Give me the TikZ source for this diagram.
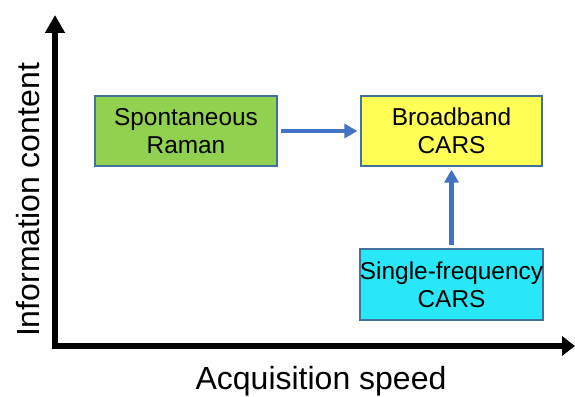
\documentclass[tikz,border=0pt]{standalone}
\usepackage{fontspec}
\setmainfont{Liberation Sans}
\usetikzlibrary{arrows.meta}
\definecolor{boxline}{RGB}{65,113,156}
\definecolor{arrowblue}{RGB}{68,114,196}
\definecolor{rgreen}{RGB}{146,208,80}
\definecolor{ryellow}{RGB}{255,255,85}
\definecolor{rcyan}{RGB}{40,232,248}
\tikzset{
  box/.style={draw=boxline, line width=1.3pt, inner sep=0pt, align=center,
    font=\fontsize{24.4}{28}\selectfont, text=black},
  conn/.style={draw=arrowblue, line width=4.5pt,
    -{Triangle[length=13pt,width=14pt]}, shorten <=3pt, shorten >=3pt},
  axis/.style={line width=6pt, line join=miter,
    {Triangle[length=18pt,width=19pt]}-{Triangle[length=13pt,width=19pt]}},
  axlabel/.style={font=\fontsize{32}{36}\selectfont, inner sep=0pt}
}
\begin{document}
\begin{tikzpicture}[x=1pt,y=-1pt]
\useasboundingbox (0,0) rectangle (575,396);
\coordinate (ytop) at (55,15);
\coordinate (origin) at (55,346);
\coordinate (xend) at (575,346);
\draw[axis] (ytop) -- (origin) -- (xend);
\node[axlabel, rotate=90] (ylab) at (28,200) {Information content};
\node[axlabel, anchor=base] (xlab) at (321,389) {Acquisition speed};
\node[box, fill=rgreen, minimum width=182pt, minimum height=70pt] (sr) at (186,131) {Spontaneous\\Raman};
\node[box, fill=ryellow, minimum width=181pt, minimum height=70pt] (bb) at (451.5,131) {Broadband\\CARS};
\node[box, fill=rcyan, minimum width=181pt, minimum height=71pt] (sf) at (451.5,284.5) {Single-frequency\\CARS};
\draw[conn] (sr) -- (bb);
\draw[conn] (sf) -- (bb);
\end{tikzpicture}
\end{document}
